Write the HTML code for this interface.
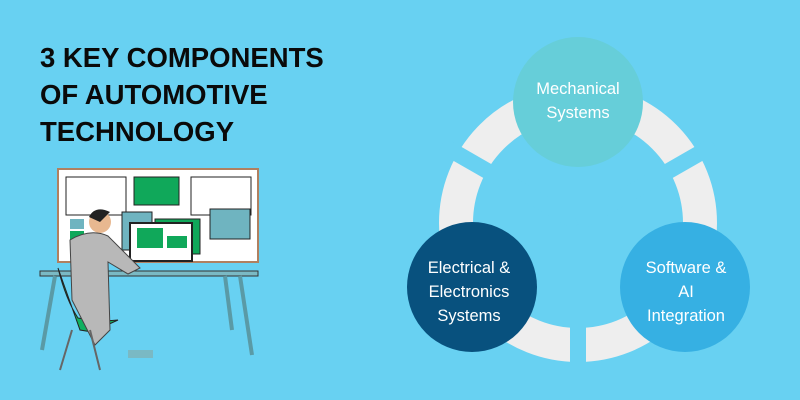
<!DOCTYPE html>
<html><head><style>
body{margin:0;width:800px;height:400px;background:#68D1F2;overflow:hidden;position:relative;font-family:"Liberation Sans",sans-serif}
h1{position:absolute;left:40px;top:39px;margin:0;font-size:27.5px;line-height:37px;font-weight:900;color:#0a0a0a;letter-spacing:0}
</style></head><body>
<h1>3 KEY COMPONENTS<br>OF AUTOMOTIVE<br>TECHNOLOGY</h1>
<svg width="800" height="400" style="position:absolute;left:0;top:0">
<rect x="58" y="169" width="200" height="93" fill="#fff" stroke="#b08060" stroke-width="2"/>
<rect x="66" y="177" width="60" height="38" fill="#fff" stroke="#222"/>
<rect x="134" y="177" width="45" height="28" fill="#10a85a" stroke="#222"/>
<rect x="191" y="177" width="60" height="38" fill="#fff" stroke="#222"/>
<rect x="122" y="212" width="30" height="38" fill="#6fb4c0" stroke="#222"/>
<rect x="155" y="219" width="45" height="35" fill="#10a85a" stroke="#222"/>
<rect x="210" y="209" width="40" height="30" fill="#6fb4c0" stroke="#222"/>
<rect x="70" y="219" width="14" height="10" fill="#6fb4c0"/>
<rect x="70" y="231" width="14" height="10" fill="#10a85a"/>
<rect x="130" y="223" width="62" height="38" fill="#fff" stroke="#222" stroke-width="2"/>
<rect x="137" y="228" width="26" height="20" fill="#10a85a"/>
<rect x="167" y="236" width="20" height="12" fill="#10a85a"/>
<rect x="40" y="271" width="218" height="5" fill="#7ab9c4" stroke="#333"/>
<path d="M55 276 L42 350 M240 276 L252 355 M225 276 L232 330" stroke="#5a9aa6" stroke-width="4"/>
<path d="M58 268 Q66 300 78 318 Q100 322 118 320 L92 332 L80 330 Z" fill="#10b060" stroke="#222"/>
<circle cx="100" cy="222" r="11" fill="#e8b890"/>
<path d="M89 217 Q95 205 110 212 L100 222 Z" fill="#222"/>
<path d="M70 240 Q90 228 108 236 L140 268 L128 274 L108 262 L110 330 L95 345 L72 300 Z" fill="#b8b8b8" stroke="#444"/>
<path d="M72 330 L60 370 M90 330 L100 370" stroke="#666" stroke-width="2"/>
<rect x="128" y="350" width="25" height="8" fill="#7ab9c4"/>
<circle cx="578" cy="223" r="122" fill="none" stroke="#EEEEEE" stroke-width="34"/>
<g stroke="#68D1F2" stroke-width="16">
<line x1="578" y1="223" x2="578" y2="380"/>
<line x1="578" y1="223" x2="442" y2="145"/>
<line x1="578" y1="223" x2="714" y2="145"/>
</g>
<circle cx="578" cy="102" r="65" fill="#66CED9"/>
<circle cx="472" cy="287" r="65" fill="#08517E"/>
<circle cx="685" cy="287" r="65" fill="#36B0E3"/>
<g fill="#fff" font-size="16.5" text-anchor="middle" font-family="Liberation Sans,sans-serif">
<text x="578" y="94">Mechanical</text><text x="578" y="118">Systems</text>
<text x="469" y="273">Electrical &amp;</text><text x="469" y="297">Electronics</text><text x="469" y="321">Systems</text>
<text x="686" y="273">Software &amp;</text><text x="686" y="297">AI</text><text x="686" y="321">Integration</text>
</g>
</svg>
</body></html>
